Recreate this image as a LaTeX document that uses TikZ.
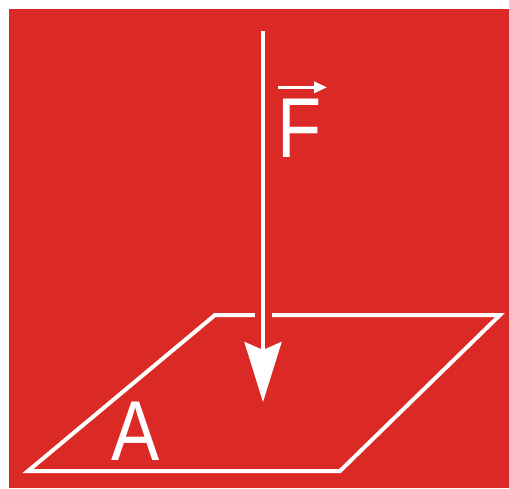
\documentclass[tikz,border=0pt]{standalone}
\usepackage{fontspec}
\setmainfont{Liberation Sans}
\newfontfamily\lblfont[FakeStretch=0.85]{Liberation Sans}
\usetikzlibrary{arrows.meta}
\definecolor{plred}{RGB}{219,42,38}
\tikzset{
    edge/.style={draw=white, line width=4pt, line join=miter},
    force/.style={-{Stealth[length=60pt, width=37pt, inset=8pt]}, white, line width=4pt},
    gap/.style={plred, line width=17pt},
    vecarrow/.style={-{Triangle[length=13pt, width=11pt]}, white, line width=3pt},
    lbl/.style={text=white, font=\lblfont\fontsize{85}{90}\selectfont, inner sep=0pt, anchor=base},
}

\begin{document}
\begin{tikzpicture}[x=1pt, y=-1pt]
    \useasboundingbox (0,0) rectangle (509,488);
    \fill[plred] (9,9) rectangle (509,488);
    % plate
    \coordinate (bl) at (28,471);
    \coordinate (br) at (340,471);
    \coordinate (tr) at (500,315);
    \coordinate (tl) at (215,315);
    \draw[edge] (bl) -- (br) -- (tr) -- (tl) -- cycle;
    % force
    \coordinate (ftop) at (263,31);
    \coordinate (fback) at (263,340);
    \coordinate (ftip) at (263,402);
    \draw[gap] (ftop) -- (fback);
    \draw[force] (ftop) -- (ftip);
    % labels
    \node[lbl] (F) at (300,157) {F};
    \coordinate (vs) at ([shift={(-22,-11)}]F.north);
    \coordinate (ve) at ([shift={(27,-11)}]F.north);
    \draw[vecarrow] (vs) -- (ve);
    \node[lbl] (A) at (136,460) {A};
\end{tikzpicture}
\end{document}
